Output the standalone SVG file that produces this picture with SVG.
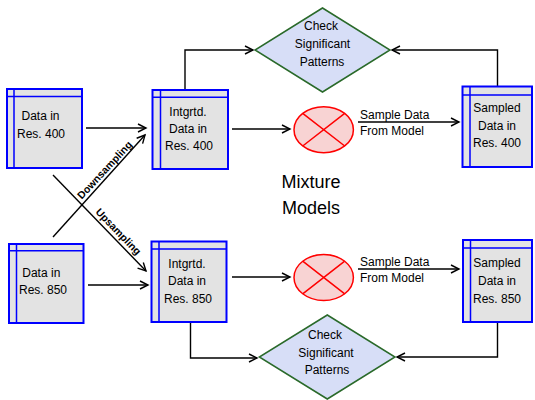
<svg xmlns="http://www.w3.org/2000/svg" width="535" height="400" viewBox="0 0 535 400">
<defs>
<marker id="arr" markerUnits="userSpaceOnUse" markerWidth="12" markerHeight="12" viewBox="0 0 12 12" refX="10" refY="6" orient="auto">
<path d="M2,2 L10,6 L2,10" fill="none" stroke="#000" stroke-width="1.4"/>
</marker>
</defs>
<style>
.box{fill:#e3e3e3;stroke:#0000ff;stroke-width:2}
.inner{stroke:#0000ff;stroke-width:1.5;fill:none}
.dia{fill:#d7def7;stroke:#2a6a2a;stroke-width:1.5}
.ell{fill:#f8d3d3;stroke:#ff0000;stroke-width:1.5}
.cross{stroke:#ff0000;stroke-width:1.5}
.t{font-family:"Liberation Sans",Arial,sans-serif;font-size:12px;fill:#000;text-anchor:middle}
.tl{font-family:"Liberation Sans",Arial,sans-serif;font-size:12px;fill:#000}
.big{font-family:"Liberation Sans",Arial,sans-serif;font-size:18px;fill:#000;text-anchor:middle}
.rot{font-family:"Liberation Sans",Arial,sans-serif;font-size:10.5px;font-weight:bold;fill:#000;text-anchor:middle}
.c{fill:none;stroke:#000;stroke-width:1.4}
</style>

<g id="connectors">
<line class="c" x1="86" y1="128" x2="146" y2="128" marker-end="url(#arr)"/>
<line class="c" x1="232" y1="129" x2="290" y2="129" marker-end="url(#arr)"/>
<line class="c" x1="358" y1="122" x2="459" y2="122" marker-end="url(#arr)"/>
<polyline class="c" points="185,89 185,50 253,50" marker-end="url(#arr)"/>
<polyline class="c" points="497.5,86 497.5,50 392,50" marker-end="url(#arr)"/>
<line class="c" x1="53" y1="237" x2="145" y2="135" marker-end="url(#arr)"/>
<line class="c" x1="53" y1="175" x2="146" y2="271" marker-end="url(#arr)"/>
<line class="c" x1="88" y1="285" x2="148" y2="285" marker-end="url(#arr)"/>
<line class="c" x1="232" y1="277" x2="290" y2="277" marker-end="url(#arr)"/>
<line class="c" x1="358" y1="269" x2="459" y2="269" marker-end="url(#arr)"/>
<polyline class="c" points="190.5,322 190.5,358 257,358" marker-end="url(#arr)"/>
<polyline class="c" points="497.5,322 497.5,357 397,357" marker-end="url(#arr)"/>
<text class="rot" transform="translate(107.3,172.4) rotate(-47)">Downsampling</text>
<text class="rot" transform="translate(115.8,234.1) rotate(46)">Upsampling</text>
<text class="tl" x="360" y="119">Sample Data</text>
<text class="tl" x="360" y="135">From Model</text>
<text class="tl" x="360" y="266">Sample Data</text>
<text class="tl" x="360" y="282">From Model</text>
</g>

<g id="data400">
<rect class="box" x="7" y="89" width="75" height="79"/>
<path class="inner" d="M14,89 V168 M7,96.5 H82"/>
<text class="t" x="40.5" y="119.5">Data in</text>
<text class="t" x="41" y="137.5">Res. 400</text>
</g>

<g id="intgrtd400">
<rect class="box" x="152.5" y="90" width="75.5" height="79"/>
<path class="inner" d="M160.5,90 V169 M152.5,97.3 H228"/>
<text class="t" x="188" y="115.5">Intgrtd.</text>
<text class="t" x="188" y="132.5">Data in</text>
<text class="t" x="189" y="149.5">Res. 400</text>
</g>

<g id="sampled400">
<rect class="box" x="462.5" y="86.5" width="69.5" height="80.5"/>
<path class="inner" d="M470,86.5 V167 M462.5,95 H532"/>
<text class="t" x="497" y="112">Sampled</text>
<text class="t" x="497" y="129.5">Data in</text>
<text class="t" x="497" y="146.5">Res. 400</text>
</g>

<g id="check400">
<polygon class="dia" points="322.5,8 390,50 322.5,92 255,50"/>
<text class="t" x="321" y="30">Check</text>
<text class="t" x="322.5" y="48">Significant</text>
<text class="t" x="322" y="65.5">Patterns</text>
</g>

<g id="mix400">
<ellipse class="ell" cx="323.7" cy="129.7" rx="29.7" ry="23"/>
<path class="cross" d="M302.7,113.4 L344.7,146 M344.7,113.4 L302.7,146"/>
</g>

<g id="mixture">
<text class="big" x="311" y="188">Mixture</text>
<text class="big" x="311" y="214">Models</text>
</g>

<g id="data850">
<rect class="box" x="9" y="244" width="74.5" height="79"/>
<path class="inner" d="M16.5,244 V323 M9,250.7 H83.5"/>
<text class="t" x="41.3" y="277">Data in</text>
<text class="t" x="43" y="293.5">Res. 850</text>
</g>

<g id="intgrtd850">
<rect class="box" x="151.5" y="241.5" width="75" height="80.5"/>
<path class="inner" d="M159,241.5 V322 M151.5,249 H226.5"/>
<text class="t" x="187" y="267.5">Intgrtd.</text>
<text class="t" x="187" y="285">Data in</text>
<text class="t" x="188" y="302.5">Res. 850</text>
</g>

<g id="sampled850">
<rect class="box" x="463" y="240" width="69" height="82"/>
<path class="inner" d="M470.5,240 V322 M463,248 H532"/>
<text class="t" x="497" y="267">Sampled</text>
<text class="t" x="497" y="285">Data in</text>
<text class="t" x="497" y="303">Res. 850</text>
</g>

<g id="check850">
<polygon class="dia" points="327.3,315 395,357 327.3,399 259.3,357"/>
<text class="t" x="325" y="338.5">Check</text>
<text class="t" x="326" y="356.5">Significant</text>
<text class="t" x="327" y="373.5">Patterns</text>
</g>

<g id="mix850">
<ellipse class="ell" cx="323.7" cy="277.5" rx="29.7" ry="23"/>
<path class="cross" d="M302.7,261.2 L344.7,293.8 M344.7,261.2 L302.7,293.8"/>
</g>
</svg>
